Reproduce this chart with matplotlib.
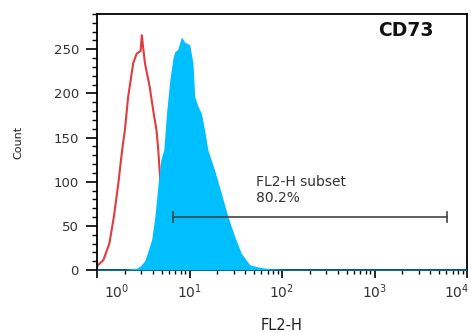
import matplotlib
matplotlib.use("Agg")
import matplotlib.pyplot as plt
from matplotlib.transforms import ScaledTranslation
from matplotlib.ticker import LogLocator, MultipleLocator, NullFormatter

plt.rcParams['font.family'] = ['DejaVu Sans']

# Isotype control (red outline)
ctrl_fl2 = [1.01, 1.17, 1.36, 1.52, 1.70, 1.87, 2.00, 2.17, 2.46, 2.68, 2.96, 3.05,
            3.30, 3.72, 4.05, 4.40, 4.58, 4.86, 5.41, 6.12, 6.93, 7.85, 10.1]
ctrl_count = [5, 11, 30, 60, 98, 136, 158, 196, 234, 245, 248, 266,
              234, 207, 181, 158, 138, 98, 60, 30, 10, 3, 0]

# CD73 stained sample (blue filled)
cd73_fl2 = [1.0, 2.00, 2.27, 2.68, 2.98, 3.30, 3.89, 4.22, 4.58, 4.90, 5.27, 5.64,
            6.12, 6.65, 6.93, 7.46, 8.18, 8.89, 10.07, 10.9, 11.4, 12.4, 13.5, 14.6,
            15.8, 18.7, 22.1, 26.1, 30.8, 36.3, 44.7, 57.1, 73.3, 106, 10000]
cd73_count = [1, 1, 1.5, 2, 5, 11, 34, 60, 98, 125, 136, 177,
              215, 241, 247, 250, 264, 258, 255, 234, 196, 185, 177, 158,
              136, 113, 87, 60, 38, 19, 6, 3, 1.5, 1, 1]

gate_range = [6.55, 6085]
gate_level = 60
gate_name = "FL2-H subset"
gate_pct = "80.2%"

x_ticks = [1, 10, 100, 1000, 10000]
x_ticklabels = [r"$10^{0}$", r"$10^{1}$", r"$10^{2}$", r"$10^{3}$", r"$10^{4}$"]
y_ticks = [0, 50, 100, 150, 200, 250]

fig = plt.figure(figsize=(4.71, 3.33), dpi=100)
ax = fig.add_axes([97/471, 63/333, 370/471, 256/333])

ax.plot(ctrl_fl2, ctrl_count, color='#e23b3f', lw=1.5, zorder=2)
ax.fill_between(cd73_fl2, 0, cd73_count, color='#00bfff', lw=0, zorder=3)

ax.set_xscale('log')
ax.set_xlim(1, 10000)
ax.set_ylim(0, 290)

# gate
ax.plot(gate_range, [gate_level, gate_level], color='#444444', lw=1.2, zorder=4)
for gx in gate_range:
    ax.plot([gx, gx], [gate_level - 6, gate_level + 6], color='#444444', lw=1.2, zorder=4)
ax.text(53, 100, gate_name, fontsize=10, color='#333333', va='center', ha='left')
ax.text(53, 82, gate_pct, fontsize=10, color='#333333', va='center', ha='left')

ax.set_xticks(x_ticks)
ax.set_xticklabels(x_ticklabels, fontsize=10, color='#333333')
ax.xaxis.set_minor_locator(LogLocator(base=10, subs=range(2, 10), numticks=20))
ax.xaxis.set_minor_formatter(NullFormatter())
ax.set_yticks(y_ticks)
ax.set_yticklabels([str(v) for v in y_ticks], fontsize=9.5, color='#333333')
ax.yaxis.set_minor_locator(MultipleLocator(10))

ax.tick_params(axis='x', which='major', direction='out', length=6, width=1.2, pad=3)
ax.tick_params(axis='x', which='minor', direction='out', length=3, width=1)
ax.tick_params(axis='y', which='major', direction='out', length=8, width=1.2, pad=5)
ax.tick_params(axis='y', which='minor', direction='out', length=3.5, width=1)

for s in ax.spines.values():
    s.set_linewidth(1.3)
    s.set_color('black')

lbls = ax.get_xticklabels()
lbls[0].set_transform(lbls[0].get_transform() + ScaledTranslation(0.2, 0, fig.dpi_scale_trans))
lbls[-1].set_transform(lbls[-1].get_transform() + ScaledTranslation(-0.1, 0, fig.dpi_scale_trans))

fig.text(18/471, 1 - 142/333, "Count", rotation=90, fontsize=8, ha='center', va='center', color='#222222')
fig.text(282/471, 1 - 326/333, "FL2-H", fontsize=10.5, ha='center', va='center', color='#222222')
fig.text(406/471, 1 - 30/333, "CD73", fontsize=13.5, fontweight='bold', ha='center', va='center', color='#111111')

fig.savefig("out.png", dpi=100)
